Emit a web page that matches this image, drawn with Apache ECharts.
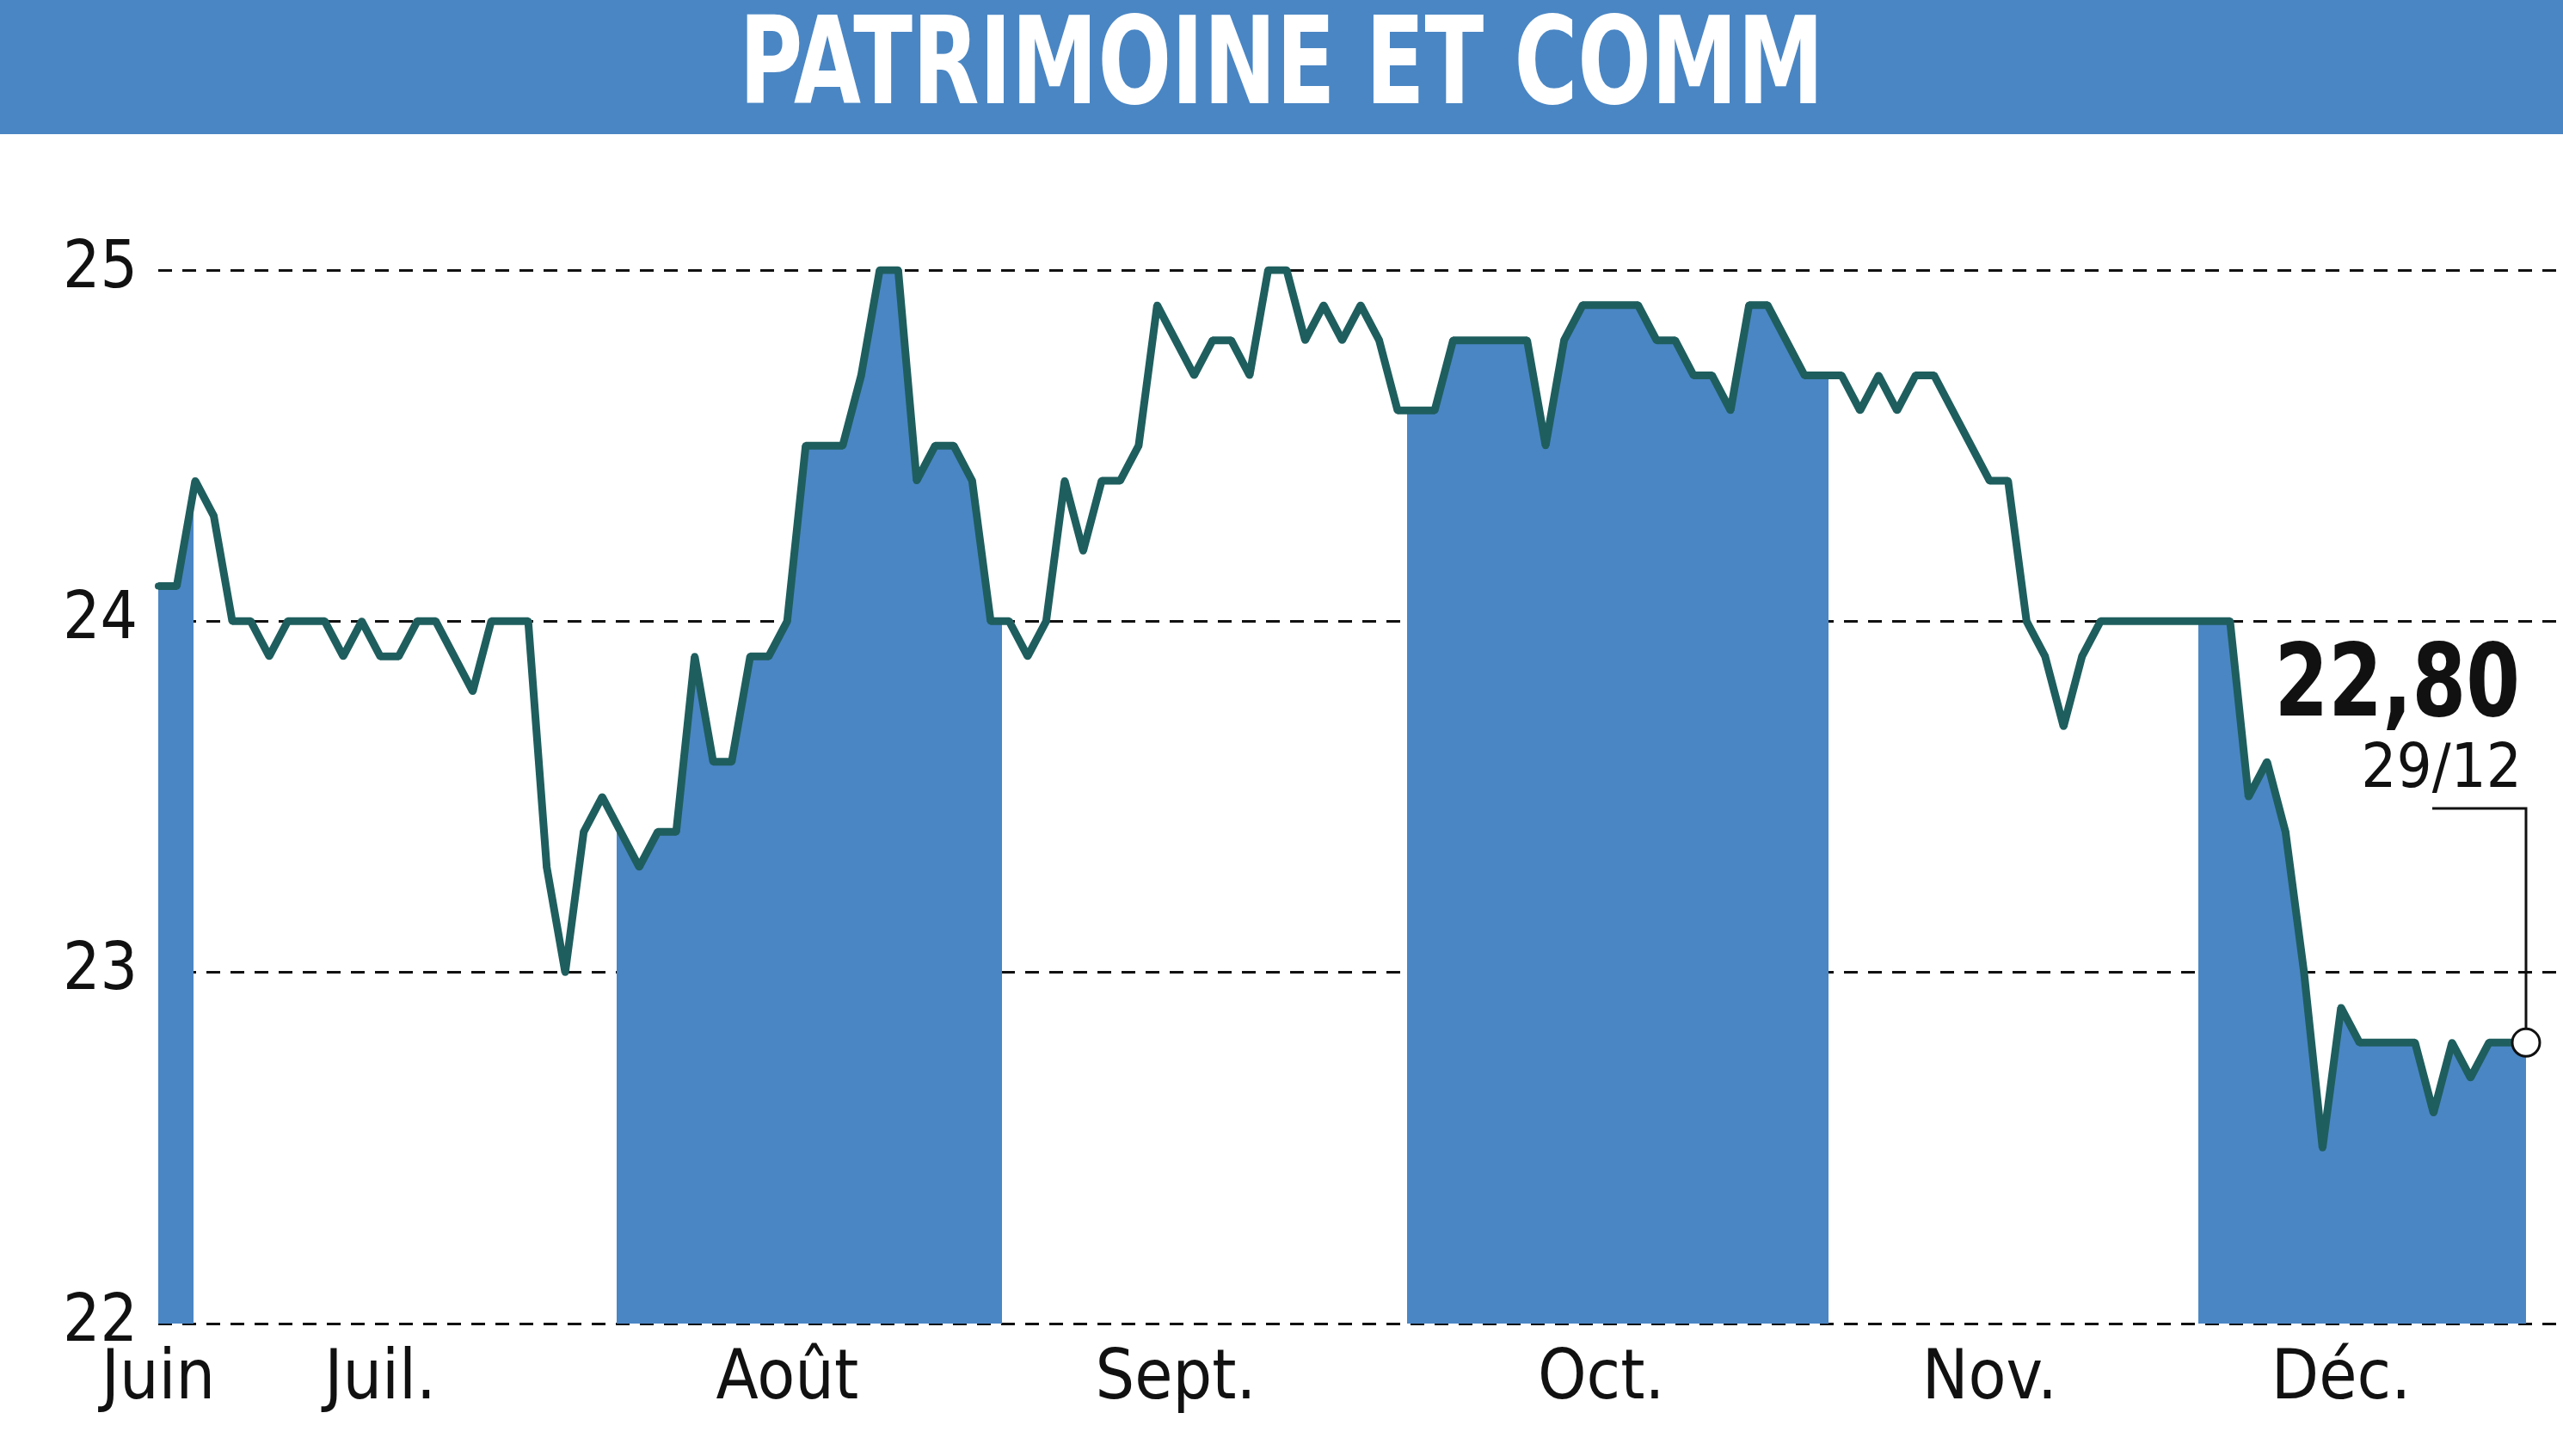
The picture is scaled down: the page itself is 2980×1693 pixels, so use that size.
<!DOCTYPE html>
<html>
<head>
<meta charset="utf-8">
<style>html,body{margin:0;padding:0;background:#fff}#chart-panel{position:absolute;left:0;top:0;width:2980px;height:1693px}</style>
<script src="https://cdn.jsdelivr.net/npm/echarts@6/dist/echarts.min.js"></script>
</head>
<body>
<div id="chart-panel"></div>
<script type="text/javascript">
var title = 'PATRIMOINE ET COMM';
var days = [0,1,2,3,4,5,6,7,9,10,11,12,13,14,15,17,18,20,21,22,23,24,26,27,28,29,30,31,32,33,34,35,37,38,39,40,41,42,43,44,45,46,47,48,49,50,51,52,53,54,56,57,58,59,60,61,62,63,64,65,66,67,69,70,74,75,76,77,80,81,82,83,84,85,86,87,89,91,92,93,94,95,96,99,100,101,102,103,104,105,112,113,114,115,116,117,118,119,122,123,124,125,126,128];
var prices = [24.1,24.1,24.4,24.3,24.0,24.0,23.9,24.0,24.0,23.9,24.0,23.9,23.9,24.0,24.0,23.8,24.0,24.0,23.3,23.0,23.4,23.5,23.3,23.4,23.4,23.9,23.6,23.6,23.9,23.9,24.0,24.5,24.5,24.7,25.0,25.0,24.4,24.5,24.5,24.4,24.0,24.0,23.9,24.0,24.4,24.2,24.4,24.4,24.5,24.9,24.7,24.8,24.8,24.7,25.0,25.0,24.8,24.9,24.8,24.9,24.8,24.6,24.6,24.8,24.8,24.5,24.8,24.9,24.9,24.8,24.8,24.7,24.7,24.6,24.9,24.9,24.7,24.7,24.6,24.7,24.6,24.7,24.7,24.4,24.4,24.0,23.9,23.7,23.9,24.0,24.0,23.5,23.6,23.4,23.0,22.5,22.9,22.8,22.8,22.6,22.8,22.7,22.8,22.8];
var monthPos = [0,12,34,55,78,99,118];
var monthNames = ['Juin','Juil.','Août','Sept.','Oct.','Nov.','Déc.'];
var bands = [[0,1.9],[24.8,45.6],[67.5,90.3],[110.3,128]];
var lastLabel = '22,80', lastDate = '29/12';

var blue = '#4a86c4', lineCol = '#1f5e5e';
var font = '"DejaVu Sans Condensed", "Liberation Sans Narrow", sans-serif';
var pts = days.map(function (d, i) { return [d, prices[i]]; });

var myChart = echarts.init(document.getElementById('chart-panel'));
var option = {
    animation: false,
    grid: {left: 184, right: 0, top: 314, bottom: 154},
    xAxis: {
        type: 'value', min: 0, max: 130,
        splitLine: {show: false}, axisLine: {show: false}, axisTick: {show: false},
        axisLabel: {
            customValues: monthPos, margin: 26,
            fontFamily: font, fontSize: 80, color: '#111',
            formatter: function (v) { return monthNames[monthPos.indexOf(v)]; }
        }
    },
    yAxis: {
        type: 'value', min: 22, max: 25, interval: 1,
        axisLine: {show: false}, axisTick: {show: false},
        axisLabel: {fontFamily: font, fontSize: 76, color: '#111', margin: 24},
        splitLine: {lineStyle: {color: '#111', type: [16, 12], width: 3}}
    },
    visualMap: {
        show: false, type: 'piecewise', dimension: 0, seriesIndex: 0,
        pieces: bands.map(function (b) { return {gte: b[0], lte: b[1], color: blue}; }),
        outOfRange: {color: 'rgba(255,255,255,0)'}
    },
    series: [
        {type: 'line', data: pts, symbol: 'none', lineStyle: {width: 0}, areaStyle: {opacity: 1, origin: 'start'}, z: 1},
        {type: 'line', data: pts, symbol: 'circle', symbolSize: 8, color: lineCol,
         itemStyle: {color: lineCol}, lineStyle: {color: lineCol, width: 9}, z: 3}
    ]
};
myChart.setOption(option);

var last = pts[pts.length - 1];
var p = myChart.convertToPixel({gridIndex: 0}, last);
myChart.setOption({
    graphic: [
        {type: 'rect', shape: {x: 0, y: 0, width: 2980, height: 156}, style: {fill: blue}, z: 10},
        {type: 'text', x: 1490, y: 84, scaleX: 0.8, z: 11, style: {text: title, fill: '#fff', font: 'bold 140px ' + font, align: 'center', verticalAlign: 'middle'}},
        {type: 'polyline', z: 12, shape: {points: [[p[0], p[1]], [p[0], 940], [2828, 940]]}, style: {stroke: '#111', lineWidth: 3, fill: null}},
        {type: 'circle', z: 13, shape: {cx: p[0], cy: p[1], r: 16}, style: {fill: '#fff', stroke: '#111', lineWidth: 3}},
        {type: 'text', x: 2930, y: 860, scaleX: 0.85, z: 12, style: {text: lastLabel, fill: '#111', font: 'bold 118px ' + font, align: 'right', verticalAlign: 'bottom'}},
        {type: 'text', x: 2932, y: 932, z: 12, style: {text: lastDate, fill: '#111', font: '72px ' + font, align: 'right', verticalAlign: 'bottom'}}
    ]
});
</script>
</body>
</html>
